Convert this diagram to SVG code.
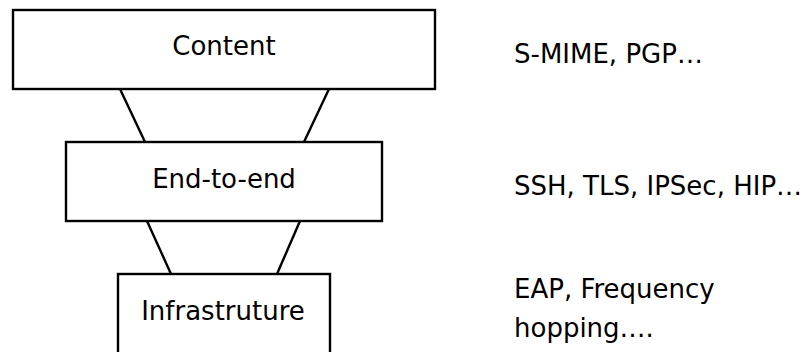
<svg xmlns="http://www.w3.org/2000/svg" width="802" height="352" viewBox="0 0 802 352">
  <style>
    .box { fill: #fff; stroke: #000; stroke-width: 2.4; }
    .link { stroke: #000; stroke-width: 2.4; fill: none; }
    text { font-family: "DejaVu Sans", sans-serif; font-size: 26px; fill: #000; }
    .c { text-anchor: middle; }
  </style>
  <rect width="802" height="352" fill="#fff"/>
  <g id="connectors">
    <line class="link" x1="120" y1="89" x2="145" y2="142"/>
    <line class="link" x1="329" y1="89" x2="304" y2="142"/>
    <line class="link" x1="147" y1="221" x2="171" y2="274"/>
    <line class="link" x1="300" y1="221" x2="277" y2="274"/>
  </g>
  <g id="content">
    <rect class="box" x="13" y="10" width="422" height="79"/>
    <text class="c" x="224" y="55">Content</text>
  </g>
  <g id="end-to-end">
    <rect class="box" x="66" y="142" width="316" height="79"/>
    <text class="c" x="224" y="188">End-to-end</text>
  </g>
  <g id="infrastructure">
    <rect class="box" x="118" y="274" width="212" height="100"/>
    <text class="c" x="223" y="320">Infrastruture</text>
  </g>
  <g id="examples">
    <text x="514" y="63">S-MIME, PGP…</text>
    <text x="514" y="195">SSH, TLS, IPSec, HIP…</text>
    <text x="514" y="298">EAP, Frequency</text>
    <text x="514" y="337">hopping….</text>
  </g>
</svg>
